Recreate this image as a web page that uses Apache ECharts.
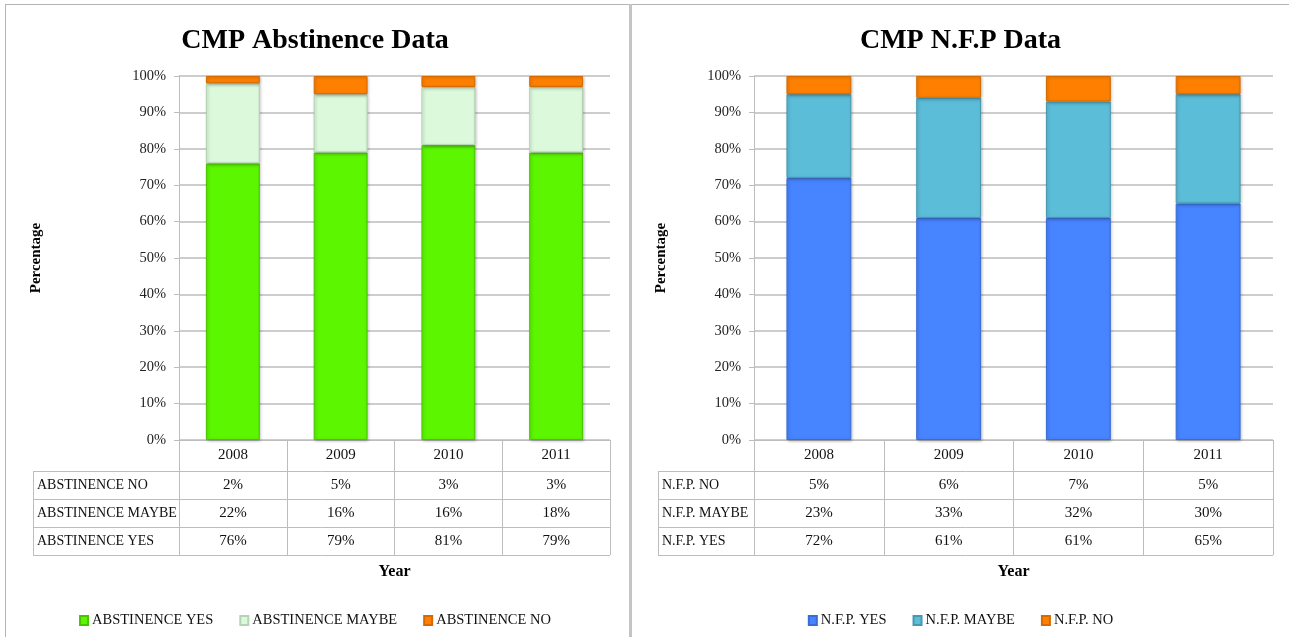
<!DOCTYPE html>
<html>
<head>
<meta charset="utf-8">
<script src="https://cdn.jsdelivr.net/npm/echarts@6/dist/echarts.min.js"></script>
<style>
  html, body { margin: 0; padding: 0; background: #fff; }
  #left { position: absolute; left: 0; top: 0; width: 630px; height: 637px; }
  #right { position: absolute; left: 632px; top: 0; width: 657px; height: 637px; }
  #frame { position: absolute; left: 5px; top: 4px; width: 1284px; height: 640px; border-top: 1px solid #b4b4b4; border-left: 1px solid #b4b4b4; pointer-events: none; }
  #sep { position: absolute; left: 629px; top: 4px; width: 3px; height: 633px; background: #c4c4c4; }
</style>
</head>
<body>
<div id="left"></div>
<div id="right"></div>
<div id="frame"></div>
<div id="sep"></div>
<script>
const years = ['2008', '2009', '2010', '2011'];
const abstinenceYes = [76, 79, 81, 79];
const abstinenceMaybe = [22, 16, 16, 18];
const abstinenceNo = [2, 5, 3, 3];
const nfpYes = [72, 61, 61, 65];
const nfpMaybe = [23, 33, 32, 30];
const nfpNo = [5, 6, 7, 5];

const serif = '"Liberation Serif", "DejaVu Serif", serif';
const gridColor = '#bdbdbd';

function makeChart(el, cfg) {
  const chart = echarts.init(el);
  const g = cfg.grid;
  const rowY = [471, 499, 527, 555];
  const tableRight = g.left + g.width;
  const graphic = [];
  rowY.forEach(y => graphic.push({ type: 'line', shape: { x1: cfg.tableLeft, y1: y + 0.5, x2: tableRight, y2: y + 0.5 }, style: { stroke: gridColor, lineWidth: 1 } }));
  graphic.push({ type: 'line', shape: { x1: cfg.tableLeft + 0.5, y1: 471, x2: cfg.tableLeft + 0.5, y2: 555 }, style: { stroke: gridColor, lineWidth: 1 } });
  cfg.rows.forEach((r, i) => graphic.push({
    type: 'text', x: cfg.tableLeft + 4, y: 485 + i * 28,
    style: { text: r.name, fill: '#111', font: '14px ' + serif, verticalAlign: 'middle' }
  }));

  const option = {
    animation: false,
    title: { text: cfg.title, left: 'center', top: 22, textStyle: { fontFamily: serif, fontWeight: 'bold', fontSize: 28, color: '#000' } },
    legend: {
      data: cfg.series.map(s => s.name), left: 'center', top: 608, icon: 'rect', itemWidth: 8, itemHeight: 9, itemGap: 26,
      textStyle: { fontFamily: serif, fontSize: 14.5, color: '#111', padding: [0, 0, 0, -1] }
    },
    grid: { left: g.left, top: 76, width: g.width, height: 364 },
    xAxis: {
      type: 'category', data: years, name: 'Year', nameLocation: 'middle', nameGap: 124,
      nameTextStyle: { fontFamily: serif, fontWeight: 'bold', fontSize: 16, color: '#000' },
      axisLine: { lineStyle: { color: gridColor } },
      axisTick: { show: true, length: 115, lineStyle: { color: gridColor } },
      axisLabel: {
        margin: 0, interval: 0,
        formatter: (v, i) => '{y|' + v + '}\n' + cfg.rows.map(r => '{v|' + r.data[i] + '%}').join('\n'),
        rich: {
          y: { fontFamily: serif, fontSize: 15, color: '#111', lineHeight: 31 },
          v: { fontFamily: serif, fontSize: 15, color: '#111', lineHeight: 28 }
        }
      }
    },
    yAxis: {
      type: 'value', min: 0, max: 100, interval: 10, name: 'Percentage', nameLocation: 'middle', nameRotate: 90, nameGap: cfg.nameGap,
      nameTextStyle: { fontFamily: serif, fontWeight: 'bold', fontSize: 15, color: '#000' },
      axisLine: { show: true, lineStyle: { color: gridColor } },
      axisTick: { show: true, length: 5, lineStyle: { color: gridColor } },
      axisLabel: { formatter: '{value}%', fontFamily: serif, fontSize: 14.5, color: '#222', margin: 13 },
      splitLine: { lineStyle: { color: gridColor, width: 1.5 } }
    },
    series: cfg.series.map(s => ({
      name: s.name, type: 'bar', stack: 'total', data: s.data, barWidth: '50%',
      itemStyle: { color: s.color, borderColor: s.border, borderWidth: 1, shadowColor: 'rgba(0,0,0,0.25)', shadowBlur: 3, shadowOffsetX: 1, shadowOffsetY: 1 }
    })),
    graphic: graphic
  };
  chart.setOption(option);
  return chart;
}

makeChart(document.getElementById('left'), {
  title: 'CMP Abstinence Data',
  grid: { left: 179, width: 431 },
  tableLeft: 33,
  nameGap: 135,
  rows: [
    { name: 'ABSTINENCE NO', data: abstinenceNo },
    { name: 'ABSTINENCE MAYBE', data: abstinenceMaybe },
    { name: 'ABSTINENCE YES', data: abstinenceYes }
  ],
  series: [
    { name: 'ABSTINENCE YES', data: abstinenceYes, color: '#5cf600', border: '#49c400' },
    { name: 'ABSTINENCE MAYBE', data: abstinenceMaybe, color: '#dcf9dc', border: '#b5d3b5' },
    { name: 'ABSTINENCE NO', data: abstinenceNo, color: '#ff8000', border: '#d46a00' }
  ]
});

makeChart(document.getElementById('right'), {
  title: 'CMP N.F.P Data',
  grid: { left: 122, width: 519 },
  tableLeft: 26,
  nameGap: 85,
  rows: [
    { name: 'N.F.P. NO', data: nfpNo },
    { name: 'N.F.P. MAYBE', data: nfpMaybe },
    { name: 'N.F.P. YES', data: nfpYes }
  ],
  series: [
    { name: 'N.F.P. YES', data: nfpYes, color: '#4784ff', border: '#3a6cd4' },
    { name: 'N.F.P. MAYBE', data: nfpMaybe, color: '#5cbdd8', border: '#4699b0' },
    { name: 'N.F.P. NO', data: nfpNo, color: '#ff8000', border: '#d46a00' }
  ]
});
</script>
</body>
</html>
